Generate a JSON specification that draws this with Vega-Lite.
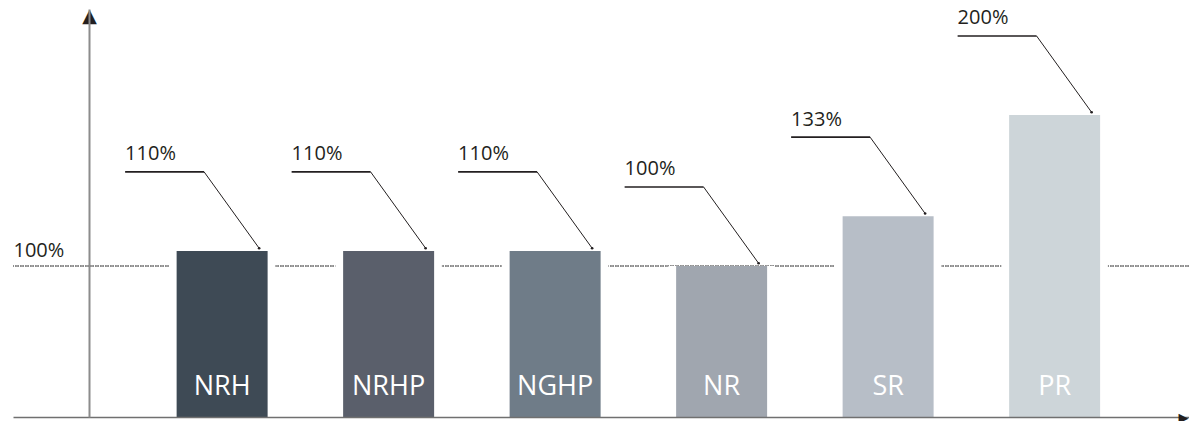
{
  "$schema": "https://vega.github.io/schema/vega-lite/v6.json",
  "width": 1176,
  "height": 408,
  "autosize": "none",
  "padding": {"left": 13, "top": 9, "right": 0, "bottom": 4},
  "background": "white",
  "config": {"view": {"stroke": null}, "font": "Open Sans"},
  "data": {
    "values": [
      {"cat": "NRH", "value": 110, "label": "110%"},
      {"cat": "NRHP", "value": 110, "label": "110%"},
      {"cat": "NGHP", "value": 110, "label": "110%"},
      {"cat": "NR", "value": 100, "label": "100%"},
      {"cat": "SR", "value": 133, "label": "133%"},
      {"cat": "PR", "value": 200, "label": "200%"}
    ]
  },
  "encoding": {
    "x": {
      "field": "cat",
      "type": "nominal",
      "sort": null,
      "scale": {"type": "band", "paddingInner": 0.4535, "paddingOuter": 0.7583, "align": 0.648},
      "axis": {"orient": "bottom", "title": null, "labels": false, "ticks": false, "grid": false, "domainColor": "#707070", "domainWidth": 1.6, "zindex": 1}
    }
  },
  "resolve": {"axis": {"y": "independent"}},
  "layer": [
    {
      "mark": {"type": "rule", "color": "#8c8c8c", "strokeWidth": 1, "strokeDash": [1.5, 1]},
      "encoding": {
        "x": null,
        "y": {
          "datum": 100,
          "type": "quantitative",
          "scale": {"domain": [0, 270.2], "nice": false, "zero": true},
          "axis": {
            "orient": "left",
            "offset": -76,
            "title": null,
            "grid": false,
            "ticks": false,
            "domainColor": "#8c8c8c",
            "domainWidth": 2,
            "zindex": 1,
            "values": [100, 270.2],
            "labelExpr": "datum.value == 100 ? '100%' : '▲'",
            "labelAlign": {"condition": {"test": "datum.value == 100", "value": "left"}, "value": "center"},
            "labelBaseline": {"condition": {"test": "datum.value == 100", "value": "alphabetic"}, "value": "top"},
            "labelPadding": {"condition": {"test": "datum.value == 100", "value": 76}, "value": 0},
            "labelOffset": {"condition": {"test": "datum.value == 100", "value": -10}, "value": -3},
            "labelFontSize": {"condition": {"test": "datum.value == 100", "value": 20}, "value": 19},
            "labelFont": {"condition": {"test": "datum.value == 100", "value": "Open Sans"}, "value": "DejaVu Sans"},
            "labelColor": "#231f20",
            "labelOverlap": false
          }
        }
      }
    },
    {
      "mark": {"type": "bar", "color": "white", "width": {"band": 1.17}},
      "encoding": {
        "y": {"field": "value", "type": "quantitative", "scale": {"domain": [0, 270.2], "nice": false, "zero": true}, "axis": null}
      }
    },
    {
      "mark": {"type": "bar"},
      "encoding": {
        "y": {"field": "value", "type": "quantitative", "scale": {"domain": [0, 270.2], "nice": false, "zero": true}, "axis": null},
        "color": {
          "field": "cat",
          "type": "nominal",
          "legend": null,
          "scale": {
            "domain": ["NRH", "NRHP", "NGHP", "NR", "SR", "PR"],
            "range": ["#3e4a55", "#5a5f6b", "#6f7c88", "#a0a6af", "#b7bec7", "#cdd5d9"]
          }
        }
      }
    },
    {
      "mark": {"type": "rule", "color": "#231f20", "strokeWidth": 1.6, "xOffset": -97, "x2Offset": -18, "yOffset": -79},
      "encoding": {
        "x2": {"field": "cat"},
        "y": {"field": "value", "type": "quantitative", "scale": {"domain": [0, 270.2], "nice": false, "zero": true}, "axis": null}
      }
    },
    {
      "mark": {"type": "rule", "color": "#231f20", "strokeWidth": 1, "xOffset": -18, "x2Offset": 37, "yOffset": -79, "y2Offset": -2.7},
      "encoding": {
        "x2": {"field": "cat"},
        "y": {"field": "value", "type": "quantitative", "scale": {"domain": [0, 270.2], "nice": false, "zero": true}, "axis": null},
        "y2": {"field": "value"}
      }
    },
    {
      "mark": {"type": "point", "filled": true, "color": "#231f20", "size": 7, "opacity": 1, "xOffset": 37, "yOffset": -2.7},
      "encoding": {
        "y": {"field": "value", "type": "quantitative", "scale": {"domain": [0, 270.2], "nice": false, "zero": true}, "axis": null}
      }
    },
    {
      "mark": {"type": "text", "align": "left", "baseline": "alphabetic", "fontSize": 20, "font": "Open Sans", "color": "#231f20", "xOffset": -97, "yOffset": -90.6},
      "encoding": {
        "y": {"field": "value", "type": "quantitative", "scale": {"domain": [0, 270.2], "nice": false, "zero": true}, "axis": null},
        "text": {"field": "label"}
      }
    },
    {
      "mark": {"type": "text", "align": "center", "baseline": "alphabetic", "fontSize": 27, "font": "Open Sans", "color": "white", "yOffset": -22},
      "encoding": {
        "y": {"datum": 0, "type": "quantitative", "scale": {"domain": [0, 270.2], "nice": false, "zero": true}, "axis": null},
        "text": {"field": "cat"}
      }
    },
    {
      "mark": {"type": "rule", "opacity": 0},
      "encoding": {
        "y": {
          "datum": 0,
          "type": "quantitative",
          "scale": {"domain": [0, 270.2], "nice": false, "zero": true},
          "axis": {
            "orient": "right",
            "offset": 0,
            "title": null,
            "grid": false,
            "ticks": false,
            "domain": false,
            "values": [0],
            "labelExpr": "'▶'",
            "labelAlign": "right",
            "labelBaseline": "middle",
            "labelPadding": -1,
            "labelFont": "DejaVu Sans",
            "labelFontSize": 13,
            "labelColor": "#231f20",
            "labelOverlap": false,
            "zindex": 1
          }
        }
      }
    }
  ]
}
